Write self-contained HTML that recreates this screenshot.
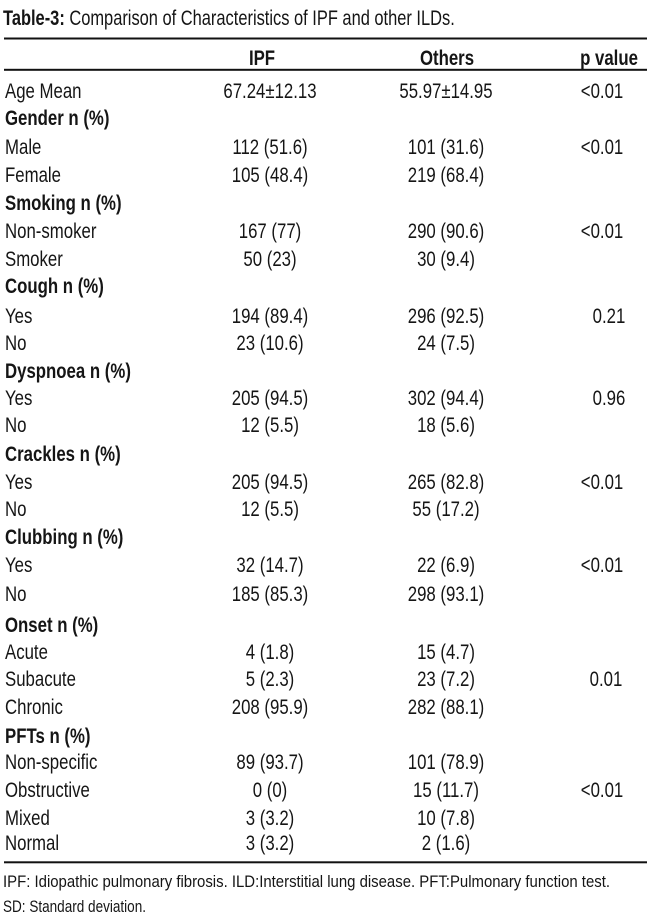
<!DOCTYPE html>
<html>
<head>
<meta charset="utf-8">
<style>
html,body{margin:0;padding:0;background:#fff;}
svg{display:block;}
text{font-family:"Liberation Sans","DejaVu Sans",sans-serif;fill:#151515;}
.b{font-weight:bold;}
</style>
</head>
<body>
<svg width="650" height="922" viewBox="0 0 650 922" xmlns="http://www.w3.org/2000/svg">
<rect x="0" y="0" width="650" height="922" fill="#fff"/>

<!-- Title -->
<g transform="translate(3,25) scale(0.765,1)">
<text x="0" y="0" font-size="21.5"><tspan class="b">Table-3:</tspan> Comparison of Characteristics of IPF and other ILDs.</text>
</g>

<!-- Rules -->
<rect x="4" y="37.5" width="643" height="2" fill="#111"/>
<rect x="4" y="68.8" width="643" height="2" fill="#111"/>
<rect x="4" y="861.3" width="643" height="2" fill="#111"/>

<!-- Header -->
<g font-size="21" class="b">
<g transform="translate(262,65) scale(0.8,1)"><text class="b" x="0" y="0" text-anchor="middle">IPF</text></g>
<g transform="translate(447,65) scale(0.8,1)"><text class="b" x="0" y="0" text-anchor="middle">Others</text></g>
<g transform="translate(609,65) scale(0.8,1)"><text class="b" x="0" y="0" text-anchor="middle">p value</text></g>
</g>

<!-- Left column -->
<g transform="translate(5,0) scale(0.8,1)" font-size="21">
<text x="0" y="98">Age Mean</text>
<text x="0" y="125" class="b">Gender n (%)</text>
<text x="0" y="154">Male</text>
<text x="0" y="182">Female</text>
<text x="0" y="210" class="b">Smoking n (%)</text>
<text x="0" y="238">Non-smoker</text>
<text x="0" y="266">Smoker</text>
<text x="0" y="293" class="b">Cough n (%)</text>
<text x="0" y="323">Yes</text>
<text x="0" y="350">No</text>
<text x="0" y="378" class="b">Dyspnoea n (%)</text>
<text x="0" y="405">Yes</text>
<text x="0" y="432">No</text>
<text x="0" y="461" class="b">Crackles n (%)</text>
<text x="0" y="489">Yes</text>
<text x="0" y="516">No</text>
<text x="0" y="544" class="b">Clubbing n (%)</text>
<text x="0" y="572">Yes</text>
<text x="0" y="601">No</text>
<text x="0" y="632" class="b">Onset n (%)</text>
<text x="0" y="659">Acute</text>
<text x="0" y="686">Subacute</text>
<text x="0" y="714">Chronic</text>
<text x="0" y="743" class="b">PFTs n (%)</text>
<text x="0" y="769">Non-specific</text>
<text x="0" y="797">Obstructive</text>
<text x="0" y="825">Mixed</text>
<text x="0" y="850">Normal</text>
</g>

<!-- IPF column -->
<g transform="translate(270,0) scale(0.8,1)" font-size="21" text-anchor="middle">
<text x="0" y="98">67.24±12.13</text>
<text x="0" y="154">112 (51.6)</text>
<text x="0" y="182">105 (48.4)</text>
<text x="0" y="238">167 (77)</text>
<text x="0" y="266">50 (23)</text>
<text x="0" y="323">194 (89.4)</text>
<text x="0" y="350">23 (10.6)</text>
<text x="0" y="405">205 (94.5)</text>
<text x="0" y="432">12 (5.5)</text>
<text x="0" y="489">205 (94.5)</text>
<text x="0" y="516">12 (5.5)</text>
<text x="0" y="572">32 (14.7)</text>
<text x="0" y="601">185 (85.3)</text>
<text x="0" y="659">4 (1.8)</text>
<text x="0" y="686">5 (2.3)</text>
<text x="0" y="714">208 (95.9)</text>
<text x="0" y="769">89 (93.7)</text>
<text x="0" y="797">0 (0)</text>
<text x="0" y="825">3 (3.2)</text>
<text x="0" y="850">3 (3.2)</text>
</g>

<!-- Others column -->
<g transform="translate(446,0) scale(0.8,1)" font-size="21" text-anchor="middle">
<text x="0" y="98">55.97±14.95</text>
<text x="0" y="154">101 (31.6)</text>
<text x="0" y="182">219 (68.4)</text>
<text x="0" y="238">290 (90.6)</text>
<text x="0" y="266">30 (9.4)</text>
<text x="0" y="323">296 (92.5)</text>
<text x="0" y="350">24 (7.5)</text>
<text x="0" y="405">302 (94.4)</text>
<text x="0" y="432">18 (5.6)</text>
<text x="0" y="489">265 (82.8)</text>
<text x="0" y="516">55 (17.2)</text>
<text x="0" y="572">22 (6.9)</text>
<text x="0" y="601">298 (93.1)</text>
<text x="0" y="659">15 (4.7)</text>
<text x="0" y="686">23 (7.2)</text>
<text x="0" y="714">282 (88.1)</text>
<text x="0" y="769">101 (78.9)</text>
<text x="0" y="797">15 (11.7)</text>
<text x="0" y="825">10 (7.8)</text>
<text x="0" y="850">2 (1.6)</text>
</g>

<!-- p value column -->
<g font-size="21" text-anchor="middle">
<g transform="translate(602,98) scale(0.8,1)"><text x="0" y="0">&lt;0.01</text></g>
<g transform="translate(602,154) scale(0.8,1)"><text x="0" y="0">&lt;0.01</text></g>
<g transform="translate(602,238) scale(0.8,1)"><text x="0" y="0">&lt;0.01</text></g>
<g transform="translate(609,323) scale(0.8,1)"><text x="0" y="0">0.21</text></g>
<g transform="translate(609,405) scale(0.8,1)"><text x="0" y="0">0.96</text></g>
<g transform="translate(602,489) scale(0.8,1)"><text x="0" y="0">&lt;0.01</text></g>
<g transform="translate(602,572) scale(0.8,1)"><text x="0" y="0">&lt;0.01</text></g>
<g transform="translate(606,686) scale(0.8,1)"><text x="0" y="0">0.01</text></g>
<g transform="translate(602,797) scale(0.8,1)"><text x="0" y="0">&lt;0.01</text></g>
</g>

<!-- Footnotes -->
<text x="3" y="887" font-size="16.3" textLength="607" lengthAdjust="spacingAndGlyphs">IPF: Idiopathic pulmonary fibrosis. ILD:Interstitial lung disease. PFT:Pulmonary function test.</text>
<text x="3" y="912" font-size="16.3" textLength="143" lengthAdjust="spacingAndGlyphs">SD: Standard deviation.</text>
</svg>
</body>
</html>
